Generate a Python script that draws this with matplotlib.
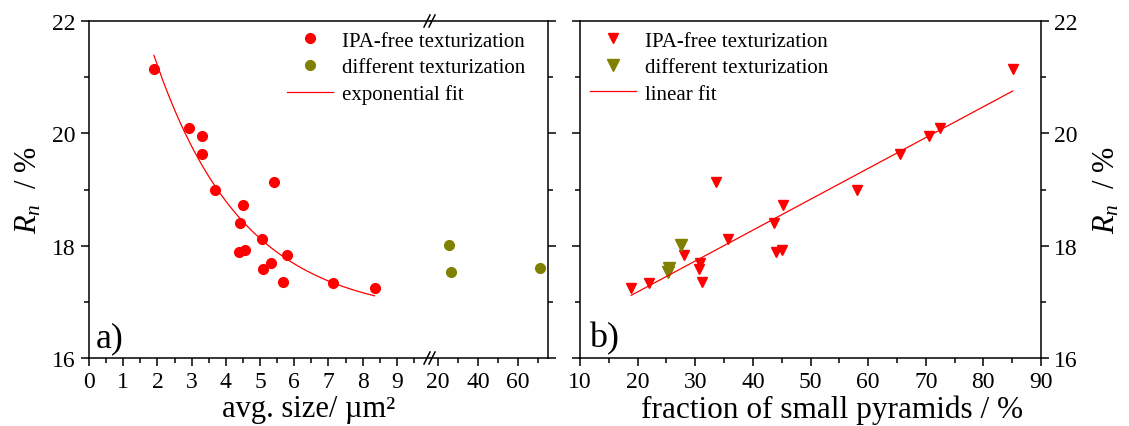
import matplotlib
matplotlib.use("Agg")
import matplotlib.pyplot as plt
from matplotlib.lines import Line2D
from matplotlib.ticker import FormatStrFormatter
import numpy as np

plt.rcParams["font.family"] = "Liberation Serif"
plt.rcParams["mathtext.fontset"] = "custom"
plt.rcParams["mathtext.rm"] = "Liberation Serif"
plt.rcParams["mathtext.it"] = "Liberation Serif:italic"

# IPA-free texturization samples
size_ipa = [1.90, 2.93, 3.29, 3.29, 3.67, 5.40, 4.49, 4.42, 5.05, 4.39, 4.55,
            5.79, 5.32, 5.10, 5.68, 7.13, 8.35]
frac_ipa = [85.1, 72.4, 70.5, 65.6, 58.1, 33.6, 45.2, 43.6, 35.7, 44.0, 45.1,
            28.0, 30.9, 30.6, 31.1, 22.0, 18.9]
rn_ipa = [21.15, 20.10, 19.96, 19.64, 18.99, 19.13, 18.73, 18.40, 18.11, 17.89,
          17.93, 17.84, 17.70, 17.59, 17.36, 17.34, 17.25]

# different texturization
size_diff = [25.6, 26.7, 70.8]
frac_diff = [27.6, 25.3, 25.5]
rn_diff = [18.02, 17.54, 17.61]

red = "#ff0000"
olive = "#808000"

#fits from the data (like the original)
x = np.array(size_ipa)
y = np.array(rn_ipa)
best = None
for t in np.linspace(0.5, 10, 2000):
    M = np.column_stack([np.ones_like(x), np.exp(-x / t)])
    coef, res, _, _ = np.linalg.lstsq(M, y, rcond=None)
    r = np.sum((M @ coef - y) ** 2)
    if best is None or r < best[0]:
        best = (r, t, coef)
_, t_fit, (y0_fit, a_fit) = best
xe = np.linspace(x.min(), x.max(), 200)
ye = y0_fit + a_fit * np.exp(-xe / t_fit)

slope, icpt = np.polyfit(frac_ipa, rn_ipa, 1)
xl = np.array([min(frac_ipa), max(frac_ipa)])
yl = icpt + slope * xl

fig = plt.figure(figsize=(11.29, 4.27), dpi=100)
W, H = 1129, 427
def box(x0, x1, y0=22, y1=359):
    return [x0 / W, 1 - y1 / H, (x1 - x0) / W, (y1 - y0) / H]

ax1 = fig.add_axes(box(89, 431))
ax2 = fig.add_axes(box(431, 548))
ax3 = fig.add_axes(box(580, 1041))
ax2.patch.set_visible(False)

ms = 7
for ax in (ax1, ax2):
    ax.plot(size_ipa, rn_ipa, "o", color=red, ms=ms, mec=red,
            label="IPA-free texturization")
    ax.plot(size_diff, rn_diff, "o", color=olive, ms=ms, mec=olive,
            label="different texturization")
ax1.plot(xe, ye, "-", color=red, lw=0.9, label="exponential fit")

ax3.plot(frac_ipa, rn_ipa, "v", color=red, ms=ms, mec=red,
         label="IPA-free texturization")
ax3.plot(frac_diff, rn_diff, "v", color=olive, ms=ms + 1, mec=olive,
         label="different texturization")
ax3.plot(xl, yl, "-", color=red, lw=0.9, label="linear fit")

for ax in (ax1, ax2, ax3):
    ax.set_ylim(16, 22)
    ax.set_yticks([16, 18, 20, 22])
    ax.set_yticks([17, 19, 21], minor=True)
    ax.xaxis.set_major_formatter(FormatStrFormatter("%d"))
    ax.yaxis.set_major_formatter(FormatStrFormatter("%d"))
    ax.tick_params(which="both", direction="out", labelsize=17, width=1.1,
                   labelfontfamily="Liberation Serif")
    ax.tick_params(which="major", length=6)
    ax.tick_params(which="minor", length=3.5)
    for s in ax.spines.values():
        s.set_linewidth(1.1)

ax1.set_xlim(0, 10)
ax1.set_xticks(range(10))
ax1.set_xticks(np.arange(0.5, 10, 1), minor=True)
ax1.spines["right"].set_visible(False)
ax1.tick_params(right=False, top=False)

ax2.set_xlim(16.5, 75)
ax2.set_xticks([20, 40, 60])
ax2.set_xticks([30, 50, 70], minor=True)
ax2.spines["left"].set_visible(False)
ax2.tick_params(which="both", left=False, labelleft=False, right=True)

ax3.set_xlim(10, 90)
ax3.set_xticks(range(10, 91, 10))
ax3.set_xticks(range(15, 90, 10), minor=True)
ax3.yaxis.tick_right()
ax3.tick_params(which="both", left=True, right=True, labelleft=False,
                labelright=True)
ax3.yaxis.set_label_position("right")

ax1.set_ylabel("$R_n$  / %", fontsize=22, labelpad=6)
ax3.set_ylabel("$R_n$  / %", fontsize=22, labelpad=10, rotation=90)
fig.text(309 / W, 1 - 410 / H, "avg. size/ µm²", fontsize=22,
         ha="center", va="center")
fig.text(832 / W, 1 - 410 / H, "fraction of small pyramids / %", fontsize=22.5,
         ha="center", va="center")

ax1.text(0.02, 0.035, "a)", transform=ax1.transAxes, fontsize=26)
ax3.text(0.02, 0.035, "b)", transform=ax3.transAxes, fontsize=26)

#break marks
for yy in (22, 359):
    for dx in (-4, 1):
        fig.add_artist(Line2D([(428 + dx) / W, (434 + dx) / W],
                              [1 - (yy + 6) / H, 1 - (yy - 6) / H],
                              color="k", lw=1.1))

leg_kw = dict(loc="upper left", frameon=False, fontsize=15, handlelength=2.2,
              handletextpad=0.45, labelspacing=0.33, borderaxespad=0,
              borderpad=0)
ax1.legend(bbox_to_anchor=(198 / 342, 0.97), **leg_kw)
ax3.legend(bbox_to_anchor=(10 / 461, 0.97), **leg_kw)

fig.savefig("out.png", dpi=100)
